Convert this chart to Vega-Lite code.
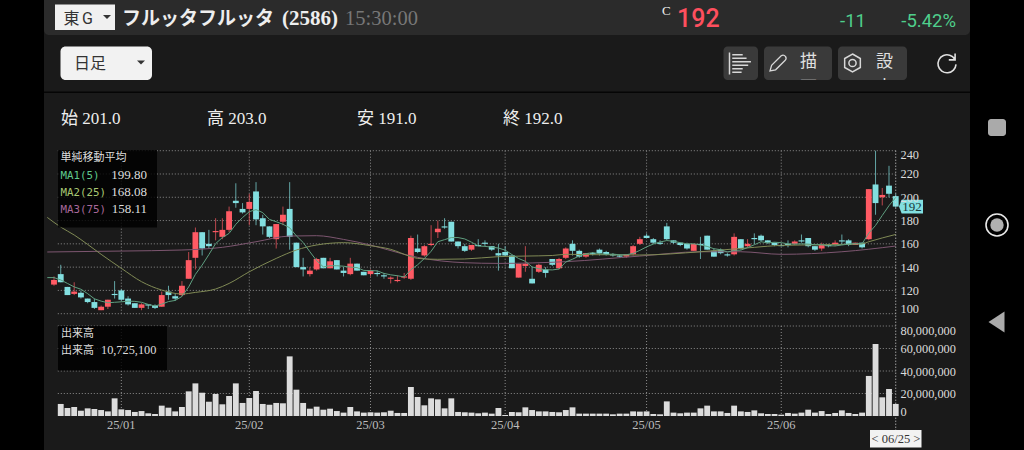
{"$schema":"https://vega.github.io/schema/vega-lite/v6.json","width":1024,"height":450,"autosize":{"type":"fit","contains":"padding"},"padding":0,"background":"#000000","config":{"view":{"stroke":null},"text":{"baseline":"alphabetic"}},
"datasets":{"one":[{"k":1}],"priceLevels":[{"p":100},{"p":120},{"p":140},{"p":160},{"p":180},{"p":200},{"p":220},{"p":240}],"volLevels":[{"q":20000000},{"q":40000000},{"q":60000000},{"q":80000000}],"months":[{"d":"2025-01-06"},{"d":"2025-02-03"},{"d":"2025-03-03"},{"d":"2025-04-01"},{"d":"2025-05-01"},{"d":"2025-06-02"}],"last":[{"d":"2025-06-25"}]},
"data":{"values":[
{"d":"2024-12-16","m1":131,"m2":182.7,"m3":153},
{"d":"2024-12-17","o":125,"h":132,"l":124,"c":129,"m1":131},
{"d":"2024-12-18","o":134,"h":142,"l":127,"c":127,"v":10700000,"m1":129,"m2":174.4},
{"d":"2024-12-19","o":123,"h":123,"l":116,"c":116,"v":7100000,"m1":126},
{"d":"2024-12-20","o":117,"h":127,"l":116,"c":119,"v":8000000,"m1":123,"m2":167.6},
{"d":"2024-12-23","o":118,"h":120,"l":113,"c":114,"v":4700000,"m1":121},
{"d":"2024-12-24","o":113,"h":113,"l":109,"c":110,"v":6800000,"m1":117.2,"m2":159.5},
{"d":"2024-12-25","o":110,"h":113,"l":104,"c":105,"v":6200000,"m1":112.8},
{"d":"2024-12-26","o":103,"h":107,"l":103,"c":106,"v":5300000,"m1":110.8,"m2":151},
{"d":"2024-12-27","o":106,"h":112,"l":104,"c":112,"v":4100000,"m1":109.4},
{"d":"2024-12-30","o":117,"h":128,"l":113,"c":116,"v":15700000,"m1":109.8},
{"d":"2025-01-06","o":120,"h":121,"l":111,"c":112,"v":5900000,"m1":110.2,"m2":139,"m3":153.8},
{"d":"2025-01-07","o":113,"h":115,"l":107,"c":108,"v":5300000,"m1":110.8},
{"d":"2025-01-08","o":109,"h":109,"l":105,"c":105,"v":3600000,"m1":110.6},
{"d":"2025-01-09","o":105,"h":109,"l":103,"c":108,"v":4400000,"m1":109.8,"m2":127.5},
{"d":"2025-01-10","o":108,"h":108,"l":104,"c":107,"v":2400000,"m1":108},
{"d":"2025-01-14","o":107,"h":108,"l":104,"c":105,"v":1800000,"m1":106.6},
{"d":"2025-01-15","o":106,"h":119,"l":106,"c":116,"v":9200000,"m1":108.2,"m2":120.3},
{"d":"2025-01-16","o":119,"h":124,"l":112,"c":116,"v":7400000,"m1":110.4},
{"d":"2025-01-17","o":115,"h":117,"l":111,"c":113,"v":4100000,"m1":111.4},
{"d":"2025-01-20","o":116,"h":128,"l":115,"c":124,"v":8000000,"m1":114.8,"m2":116.9,"m3":154.7},
{"d":"2025-01-21","o":130,"h":153,"l":130,"c":146,"v":21900000,"m1":123},
{"d":"2025-01-22","o":148,"h":174,"l":138,"c":170,"v":29000000,"m1":133.8,"m2":118.3},
{"d":"2025-01-23","o":170,"h":170,"l":150,"c":156,"v":20700000,"m1":141.8},
{"d":"2025-01-24","o":160,"h":172,"l":156,"c":158,"v":12700000,"m1":150.8},
{"d":"2025-01-27","o":170,"h":182,"l":163,"c":171,"v":19600000,"m1":160.2,"m2":121.2},
{"d":"2025-01-28","o":166,"h":182,"l":164,"c":172,"v":10400000,"m1":165.4,"m3":157},
{"d":"2025-01-29","o":172,"h":192,"l":170,"c":188,"v":17800000,"m1":169,"m2":126},
{"d":"2025-01-30","o":197,"h":212,"l":191,"c":195,"v":29000000,"m1":176.8},
{"d":"2025-01-31","o":190,"h":195,"l":186,"c":187,"v":11600000,"m1":182.6},
{"d":"2025-02-03","o":190,"h":203,"l":176,"c":196,"v":16000000,"m1":187.6,"m2":136},
{"d":"2025-02-04","o":205,"h":213,"l":176,"c":181,"v":22200000,"m1":189.4,"m3":161.8},
{"d":"2025-02-05","o":182,"h":185,"l":168,"c":175,"v":10700000,"m1":186.8},
{"d":"2025-02-06","o":175,"h":175,"l":165,"c":166,"v":10000000,"m1":181},
{"d":"2025-02-07","o":164,"h":177,"l":156,"c":177,"v":11600000,"m1":179,"m2":147.5},
{"d":"2025-02-10","o":179,"h":192,"l":176,"c":185,"v":11300000,"m1":176.8},
{"d":"2025-02-12","o":190,"h":213,"l":155,"c":166,"v":53000000,"m1":173.8,"m3":166.7},
{"d":"2025-02-13","o":161,"h":161,"l":140,"c":140,"v":23400000,"m1":166.8,"m2":154.7},
{"d":"2025-02-14","o":140,"h":148,"l":132,"c":138,"v":11600000,"m1":161.2},
{"d":"2025-02-17","o":134,"h":140,"l":132,"c":137,"v":6500000,"m1":153.2},
{"d":"2025-02-18","o":138,"h":148,"l":137,"c":147,"v":8300000,"m1":145.6,"m2":159,"m3":167},
{"d":"2025-02-19","o":148,"h":148,"l":139,"c":139,"v":5600000,"m1":140.2},
{"d":"2025-02-20","o":139,"h":148,"l":139,"c":145,"v":6500000,"m1":141.2},
{"d":"2025-02-21","o":146,"h":146,"l":138,"c":138,"v":4400000,"m1":141.2},
{"d":"2025-02-25","o":137,"h":140,"l":132,"c":135,"v":3000000,"m1":140.8,"m2":161,"m3":163.8},
{"d":"2025-02-26","o":134,"h":148,"l":133,"c":143,"v":8000000,"m1":140},
{"d":"2025-02-27","o":143,"h":143,"l":137,"c":137,"v":4100000,"m1":139.6},
{"d":"2025-02-28","o":136,"h":136,"l":133,"c":133,"v":3000000,"m1":137.2},
{"d":"2025-03-03","o":134,"h":138,"l":132,"c":137,"v":3300000,"m1":137,"m2":158.4,"m3":159},
{"d":"2025-03-04","o":135,"h":137,"l":132,"c":134,"v":3000000,"m1":136.8},
{"d":"2025-03-05","o":133,"h":135,"l":130,"c":132,"v":3300000,"m1":134.6},
{"d":"2025-03-06","o":130,"h":132,"l":126,"c":131,"v":4700000,"m1":133.4,"m2":155.3},
{"d":"2025-03-07","o":128,"h":133,"l":127,"c":129,"v":2700000,"m1":132.6},
{"d":"2025-03-10","o":131,"h":135,"l":130,"c":132,"v":2700000,"m1":131.6,"m3":151},
{"d":"2025-03-11","o":130,"h":167,"l":129,"c":165,"v":25800000,"m1":137.8,"m2":149},
{"d":"2025-03-12","o":156,"h":168,"l":152,"c":153,"v":16900000,"m1":142,"m2":147.5,"m3":148.4},
{"d":"2025-03-13","o":150,"h":159,"l":149,"c":158,"v":9500000,"m1":147.4},
{"d":"2025-03-14","o":159,"h":176,"l":158,"c":160,"v":15700000,"m1":153.6},
{"d":"2025-03-17","o":170,"h":180,"l":165,"c":173,"v":14800000,"m1":161.8,"m2":146.7},
{"d":"2025-03-18","o":175,"h":182,"l":173,"c":174,"v":6800000,"m1":163.6},
{"d":"2025-03-19","o":179,"h":179,"l":162,"c":162,"v":15700000,"m1":165.4},
{"d":"2025-03-21","o":162,"h":162,"l":156,"c":158,"v":3600000,"m1":165.4},
{"d":"2025-03-24","o":158,"h":160,"l":153,"c":154,"v":3300000,"m1":164.2,"m2":147,"m3":143.8},
{"d":"2025-03-25","o":155,"h":159,"l":154,"c":159,"v":3000000,"m1":161.4},
{"d":"2025-03-26","o":159,"h":164,"l":158,"c":158,"v":2400000,"m1":158.2},
{"d":"2025-03-27","o":161,"h":163,"l":158,"c":160,"v":3000000,"m1":157.8},
{"d":"2025-03-28","o":158,"h":158,"l":154,"c":155,"v":2100000,"m1":157.2},
{"d":"2025-03-31","o":152,"h":160,"l":137,"c":150,"v":7100000,"m1":156.4,"m2":149,"m3":143.2},
{"d":"2025-04-01","o":153,"h":158,"l":149,"c":150,"v":900000,"m1":154.6},
{"d":"2025-04-02","o":150,"h":150,"l":139,"c":139,"v":3600000,"m1":150.8},
{"d":"2025-04-03","o":131,"h":143,"l":131,"c":143,"v":3300000,"m1":147.4},
{"d":"2025-04-04","o":141,"h":158,"l":136,"c":143,"v":7700000,"m1":145,"m2":149.5},
{"d":"2025-04-07","o":130,"h":140,"l":126,"c":126,"v":5300000,"m1":140.2},
{"d":"2025-04-08","o":136,"h":143,"l":135,"c":142,"v":4100000,"m1":138.6},
{"d":"2025-04-09","o":138,"h":140,"l":131,"c":135,"v":4100000,"m1":137.8},
{"d":"2025-04-10","o":147,"h":147,"l":141,"c":142,"v":3600000,"m1":137.6,"m2":150},
{"d":"2025-04-11","o":139,"h":148,"l":138,"c":147,"v":3300000,"m1":138.4},
{"d":"2025-04-14","o":148,"h":157,"l":147,"c":156,"v":5300000,"m1":144.4,"m2":151,"m3":144.7},
{"d":"2025-04-15","o":160,"h":163,"l":150,"c":154,"v":7700000,"m1":146.8},
{"d":"2025-04-16","o":154,"h":155,"l":148,"c":149,"v":2100000,"m1":149.6},
{"d":"2025-04-17","o":149,"h":152,"l":148,"c":152,"v":2100000,"m1":151.6},
{"d":"2025-04-18","o":152,"h":153,"l":150,"c":151,"v":2100000,"m1":152.4,"m2":150.7},
{"d":"2025-04-21","o":155,"h":156,"l":150,"c":152,"v":2100000,"m1":151.6},
{"d":"2025-04-22","o":153,"h":154,"l":150,"c":151,"v":2100000,"m1":151},
{"d":"2025-04-23","o":151,"h":152,"l":149,"c":150,"v":1500000,"m1":151.2},
{"d":"2025-04-24","o":150,"h":151,"l":148,"c":149,"v":2100000,"m1":150.6},
{"d":"2025-04-25","o":149,"h":151,"l":148,"c":151,"v":2100000,"m1":150.6},
{"d":"2025-04-28","o":151,"h":159,"l":150,"c":158,"v":4100000,"m1":151.8},
{"d":"2025-04-30","o":160,"h":166,"l":159,"c":164,"v":3900000,"m1":154.4,"m2":150.4,"m3":149.5},
{"d":"2025-05-01","o":167,"h":169,"l":165,"c":165,"v":4100000,"m1":157.4},
{"d":"2025-05-02","o":164,"h":165,"l":160,"c":161,"v":1800000,"m1":159.8},
{"d":"2025-05-07","o":161,"h":163,"l":159,"c":160,"v":1500000,"m1":161.6},
{"d":"2025-05-08","o":175,"h":178,"l":163,"c":164,"v":13000000,"m1":162.8},
{"d":"2025-05-09","o":163,"h":163,"l":160,"c":161,"v":3000000,"m1":162.2},
{"d":"2025-05-12","o":161,"h":161,"l":158,"c":159,"v":2400000,"m1":161},
{"d":"2025-05-13","o":160,"h":161,"l":155,"c":156,"v":3000000,"m1":160},
{"d":"2025-05-14","o":154,"h":160,"l":154,"c":160,"v":3000000,"m1":160},
{"d":"2025-05-15","o":160,"h":166,"l":147,"c":159,"v":6800000,"m1":159,"m2":153.2,"m3":153.2},
{"d":"2025-05-16","o":167,"h":167,"l":155,"c":155,"v":9200000,"m1":157.8},
{"d":"2025-05-19","o":154,"h":156,"l":149,"c":149,"v":4100000,"m1":155.8},
{"d":"2025-05-20","o":155,"h":156,"l":151,"c":152,"v":4100000,"m1":155},
{"d":"2025-05-21","o":151,"h":152,"l":149,"c":150,"v":2700000,"m1":153},
{"d":"2025-05-22","o":151,"h":169,"l":150,"c":166,"v":9200000,"m1":154.4,"m2":155.6},
{"d":"2025-05-23","o":164,"h":164,"l":155,"c":156,"v":4100000,"m1":154.6,"m3":153.2},
{"d":"2025-05-26","o":158,"h":164,"l":157,"c":160,"v":3600000,"m1":156.8},
{"d":"2025-05-27","o":165,"h":169,"l":160,"c":164,"v":5000000,"m1":159.2,"m2":157},
{"d":"2025-05-28","o":167,"h":168,"l":162,"c":163,"v":2400000,"m1":161.8},
{"d":"2025-05-29","o":163,"h":163,"l":160,"c":161,"v":1800000,"m1":160.8},
{"d":"2025-05-30","o":161,"h":161,"l":158,"c":159,"v":1800000,"m1":161.4},
{"d":"2025-06-02","o":159,"h":160,"l":158,"c":158,"v":1200000,"m1":161,"m2":158.7,"m3":151},
{"d":"2025-06-03","o":160,"h":163,"l":157,"c":159,"v":2700000,"m1":160},
{"d":"2025-06-04","o":160,"h":163,"l":159,"c":162,"v":2100000,"m1":159.8},
{"d":"2025-06-05","o":163,"h":168,"l":161,"c":162,"v":3000000,"m1":160},
{"d":"2025-06-06","o":165,"h":165,"l":157,"c":158,"v":5600000,"m1":159.8},
{"d":"2025-06-09","o":158,"h":158,"l":154,"c":155,"v":3000000,"m1":159.2},
{"d":"2025-06-10","o":156,"h":161,"l":154,"c":159,"v":4400000,"m1":159.2},
{"d":"2025-06-11","o":159,"h":160,"l":157,"c":158,"v":1800000,"m1":158.4},
{"d":"2025-06-12","o":159,"h":163,"l":158,"c":161,"v":2700000,"m1":158.2},
{"d":"2025-06-13","o":163,"h":168,"l":159,"c":162,"v":5000000,"m1":159,"m2":159.5,"m3":153.2},
{"d":"2025-06-16","o":163,"h":164,"l":158,"c":159,"v":2700000,"m1":159.8},
{"d":"2025-06-17","o":159,"h":161,"l":159,"c":161,"v":1800000,"m1":160.2},
{"d":"2025-06-18","o":161,"h":161,"l":156,"c":157,"v":3000000,"m1":160,"m2":160},
{"d":"2025-06-19","o":164,"h":207,"l":163,"c":207,"v":35600000,"m1":169.2,"m2":161.8},
{"d":"2025-06-20","o":211,"h":240,"l":185,"c":195,"v":64000000,"m1":175.8},
{"d":"2025-06-23","o":200,"h":208,"l":193,"c":202,"v":16600000,"m1":184.4},
{"d":"2025-06-24","o":210,"h":227,"l":200,"c":203,"v":24000000,"m1":192.8},
{"d":"2025-06-25","o":201,"h":203,"l":191,"c":192,"v":10725100,"m1":199.8,"m2":168.08,"m3":158.11}
]},
"encoding":{"x":{"field":"d","type":"ordinal","scale":{"type":"band","range":[43.9,899.1],"paddingInner":0.13,"paddingOuter":0.065},"axis":{"orient":"bottom","offset":-32,"title":null,"domain":false,"ticks":false,"grid":false,"zindex":1,"labelPadding":0,"labelAngle":0,"values":["2025-01-06","2025-02-03","2025-03-03","2025-04-01","2025-05-01","2025-06-02"],"labelExpr":"slice(datum.value,2,4)+'/'+slice(datum.value,5,7)","labelFont":"Liberation Serif","labelFontSize":12.5,"labelColor":"#bdbdbd","labelBaseline":"top"}}},
"layer":[
{"data":{"name":"one"},"mark":{"type":"rect","color":"#1a1a1a"},"encoding":{"x":{"value":44},"x2":{"value":970},"y":{"value":0},"y2":{"value":450}}},
{"data":{"name":"one"},"mark":{"type":"rect","color":"#2b2b2b","cornerRadiusBottomLeft":5,"cornerRadiusBottomRight":5},"encoding":{"x":{"value":44},"x2":{"value":970},"y":{"value":0},"y2":{"value":35}}},
{"data":{"name":"one"},"mark":{"type":"rect","color":"#f0f0f0"},"encoding":{"x":{"value":55},"x2":{"value":115},"y":{"value":4.5},"y2":{"value":30}}},
{"data":{"name":"one"},"mark":{"type":"text","align":"left","font":"Noto Sans CJK JP","fontSize":16,"color":"#333333"},"encoding":{"x":{"value":63.5},"y":{"value":24},"text":{"value":"東"}}},
{"data":{"name":"one"},"mark":{"type":"text","align":"left","font":"Roboto","fontSize":16,"color":"#333333"},"encoding":{"x":{"value":82},"y":{"value":24},"text":{"value":"G"}}},
{"data":{"name":"one"},"mark":{"type":"point","shape":"M -1 -0.5 L 1 -0.5 L 0 0.5 Z","filled":true,"size":64,"color":"#333333","opacity":1},"encoding":{"x":{"value":107},"y":{"value":17}}},
{"data":{"name":"one"},"mark":{"type":"text","align":"left","font":"Noto Sans CJK JP","fontSize":19,"fontWeight":"bold","color":"#eeeeee"},"encoding":{"x":{"value":122},"y":{"value":24.5},"text":{"value":"フルッタフルッタ"}}},
{"data":{"name":"one"},"mark":{"type":"text","align":"left","font":"Liberation Serif","fontSize":21,"fontWeight":"bold","color":"#eeeeee"},"encoding":{"x":{"value":282},"y":{"value":24.5},"text":{"value":"(2586)"}}},
{"data":{"name":"one"},"mark":{"type":"text","align":"left","font":"Liberation Serif","fontSize":20.5,"color":"#777777"},"encoding":{"x":{"value":345},"y":{"value":24.5},"text":{"value":"15:30:00"}}},
{"data":{"name":"one"},"mark":{"type":"text","align":"left","font":"Liberation Serif","fontSize":13,"color":"#eeeeee"},"encoding":{"x":{"value":662},"y":{"value":15},"text":{"value":"C"}}},
{"data":{"name":"one"},"mark":{"type":"text","align":"left","font":"Roboto","fontSize":25,"fontWeight":500,"color":"#ff4f5e"},"encoding":{"x":{"value":677},"y":{"value":26.5},"text":{"value":"192"}}},
{"data":{"name":"one"},"mark":{"type":"text","align":"right","font":"Roboto","fontSize":18.5,"color":"#4fcf8c"},"encoding":{"x":{"value":866},"y":{"value":26.5},"text":{"value":"-11"}}},
{"data":{"name":"one"},"mark":{"type":"text","align":"right","font":"Roboto","fontSize":18.5,"color":"#4fcf8c"},"encoding":{"x":{"value":956},"y":{"value":26.5},"text":{"value":"-5.42%"}}},
{"data":{"name":"one"},"mark":{"type":"rect","color":"#f2f2f2","cornerRadius":5},"encoding":{"x":{"value":60.5},"x2":{"value":152},"y":{"value":46.5},"y2":{"value":80}}},
{"data":{"name":"one"},"mark":{"type":"text","align":"left","font":"Noto Sans CJK JP","fontSize":16,"color":"#333333"},"encoding":{"x":{"value":74},"y":{"value":69},"text":{"value":"日足"}}},
{"data":{"name":"one"},"mark":{"type":"point","shape":"M -1 -0.5 L 1 -0.5 L 0 0.5 Z","filled":true,"size":64,"color":"#333333","opacity":1},"encoding":{"x":{"value":141},"y":{"value":62.5}}},
{"data":{"name":"one"},"mark":{"type":"rect","color":"#3a3a3a","cornerRadius":4},"encoding":{"x":{"value":723.5},"x2":{"value":758},"y":{"value":46.5},"y2":{"value":80}}},
{"data":{"name":"one"},"mark":{"type":"rect","color":"#3a3a3a","cornerRadius":4},"encoding":{"x":{"value":764},"x2":{"value":832},"y":{"value":46.5},"y2":{"value":80}}},
{"data":{"name":"one"},"mark":{"type":"rect","color":"#3a3a3a","cornerRadius":4},"encoding":{"x":{"value":838},"x2":{"value":907},"y":{"value":46.5},"y2":{"value":80}}},
{"data":{"name":"one"},"mark":{"type":"point","shape":"M -1 -1 L -1 1 M -0.75 -0.8 L 0.2 -0.8 M -0.75 -0.48 L 0.55 -0.48 M -0.75 -0.16 L 0.95 -0.16 M -0.75 0.16 L 0.7 0.16 M -0.75 0.48 L 0.2 0.48 M -0.75 0.8 L 0.1 0.8","filled":false,"size":484,"color":"#d8d8d8","strokeWidth":1.5,"opacity":1},"encoding":{"x":{"value":740.5},"y":{"value":63.5}}},
{"data":{"name":"one"},"mark":{"type":"point","shape":"M -1 1 L -0.8 0.3 L 0.4 -0.9 Q 0.7 -1.1 0.95 -0.8 Q 1.1 -0.5 0.9 -0.35 L -0.3 0.85 Z","filled":false,"size":256,"color":"#d8d8d8","strokeWidth":1.3,"opacity":1},"encoding":{"x":{"value":778},"y":{"value":63}}},
{"data":{"name":"one"},"mark":{"type":"text","align":"left","font":"Noto Sans CJK JP","fontSize":17,"color":"#e0e0e0"},"encoding":{"x":{"value":800},"y":{"value":67},"text":{"value":"描"}}},
{"data":{"name":"one"},"mark":{"type":"text","align":"left","font":"Noto Sans CJK JP","fontSize":17,"color":"#e0e0e0"},"encoding":{"x":{"value":800},"y":{"value":92.5},"text":{"value":"画"}}},
{"data":{"name":"one"},"mark":{"type":"point","shape":"M 0 -1 L 0.87 -0.5 L 0.87 0.5 L 0 1 L -0.87 0.5 L -0.87 -0.5 Z M 0.4 0 A 0.4 0.4 0 1 1 -0.4 0 A 0.4 0.4 0 1 1 0.4 0 Z","filled":false,"size":324,"color":"#d8d8d8","strokeWidth":1.5,"opacity":1},"encoding":{"x":{"value":852.5},"y":{"value":63}}},
{"data":{"name":"one"},"mark":{"type":"text","align":"left","font":"Noto Sans CJK JP","fontSize":17,"color":"#e0e0e0"},"encoding":{"x":{"value":876},"y":{"value":67},"text":{"value":"設"}}},
{"data":{"name":"one"},"mark":{"type":"text","align":"left","font":"Noto Sans CJK JP","fontSize":17,"color":"#e0e0e0"},"encoding":{"x":{"value":876},"y":{"value":92.5},"text":{"value":"定"}}},
{"data":{"name":"one"},"mark":{"type":"rect","color":"#1a1a1a"},"encoding":{"x":{"value":723},"x2":{"value":910},"y":{"value":80},"y2":{"value":100}}},
{"data":{"name":"one"},"mark":{"type":"rect","color":"#050505"},"encoding":{"x":{"value":44},"x2":{"value":970},"y":{"value":91.5},"y2":{"value":93}}},
{"data":{"name":"one"},"mark":{"type":"point","shape":"M 0.85 -0.5 A 1 1 0 1 0 1 0.1 M 0.9 -1.1 L 0.9 -0.4 L 0.2 -0.4","filled":false,"size":324,"color":"#e0e0e0","strokeWidth":1.6,"opacity":1},"encoding":{"x":{"value":947},"y":{"value":63.5}}},
{"data":{"name":"one"},"mark":{"type":"text","align":"left","font":"Liberation Serif, Noto Sans CJK JP","fontSize":17,"color":"#eeeeee"},"encoding":{"x":{"value":61},"y":{"value":123.5},"text":{"value":"始 201.0"}}},
{"data":{"name":"one"},"mark":{"type":"text","align":"left","font":"Liberation Serif, Noto Sans CJK JP","fontSize":17,"color":"#eeeeee"},"encoding":{"x":{"value":207},"y":{"value":123.5},"text":{"value":"高 203.0"}}},
{"data":{"name":"one"},"mark":{"type":"text","align":"left","font":"Liberation Serif, Noto Sans CJK JP","fontSize":17,"color":"#eeeeee"},"encoding":{"x":{"value":357},"y":{"value":123.5},"text":{"value":"安 191.0"}}},
{"data":{"name":"one"},"mark":{"type":"text","align":"left","font":"Liberation Serif, Noto Sans CJK JP","fontSize":17,"color":"#eeeeee"},"encoding":{"x":{"value":503},"y":{"value":123.5},"text":{"value":"終 192.0"}}},
{"data":{"name":"one"},"mark":{"type":"rect","color":"#aaaaaa","cornerRadius":3},"encoding":{"x":{"value":988},"x2":{"value":1006},"y":{"value":119},"y2":{"value":136}}},
{"data":{"name":"one"},"mark":{"type":"point","shape":"circle","filled":false,"size":484,"color":"#e8e8e8","strokeWidth":1.6,"opacity":1},"encoding":{"x":{"value":997},"y":{"value":225}}},
{"data":{"name":"one"},"mark":{"type":"point","shape":"circle","filled":true,"size":180,"color":"#b0b0b0","opacity":1},"encoding":{"x":{"value":997},"y":{"value":225}}},
{"data":{"name":"one"},"mark":{"type":"point","shape":"M 1 -1.3 L 1 1.3 L -1 0 Z","filled":true,"size":256,"color":"#aaaaaa","opacity":1},"encoding":{"x":{"value":996.5},"y":{"value":322}}},
{"layer":[
{"data":{"name":"priceLevels"},"mark":{"type":"rule","color":"#8c8c8c","strokeWidth":1,"strokeDash":[1,2]},"encoding":{"y":{"field":"p","type":"quantitative","scale":{"domain":[100,240],"range":[313.7,150.7]},"axis":{"orient":"right","offset":-124,"title":null,"values":[100,120,140,160,180,200,220,240],"domain":false,"ticks":false,"grid":false,"zindex":1,"labelPadding":0,"labelFlush":true,"labelFlushOffset":2,"labelFont":"Liberation Serif","labelFontSize":12.3,"labelColor":"#dcdcdc"}},"x":{"datum":"2024-12-18","type":"ordinal","bandPosition":0},"x2":{"datum":"2025-06-25"}}},
{"data":{"name":"months"},"mark":{"type":"rule","color":"#8c8c8c","strokeWidth":1,"strokeDash":[1,2]},"encoding":{"x":{"field":"d","type":"ordinal"},"y":{"datum":240,"type":"quantitative"},"y2":{"datum":100}}},
{"transform":[{"filter":"isValid(datum.o)"}],"mark":{"type":"rule","strokeWidth":1,"opacity":0.7},"encoding":{"y":{"field":"l","type":"quantitative"},"y2":{"field":"h"},"color":{"condition":{"test":"datum.c>=datum.o","value":"#ff5a64"},"value":"#82dfe0"}}},
{"transform":[{"filter":"isValid(datum.o)"}],"mark":{"type":"bar"},"encoding":{"y":{"field":"o","type":"quantitative"},"y2":{"field":"c"},"color":{"condition":{"test":"datum.c>=datum.o","value":"#ff5a64"},"value":"#82dfe0"}}},
{"transform":[{"filter":"isValid(datum.m3)"}],"mark":{"type":"line","color":"#7d5670","strokeWidth":1,"interpolate":"monotone"},"encoding":{"y":{"field":"m3","type":"quantitative"}}},
{"transform":[{"filter":"isValid(datum.m2)"}],"mark":{"type":"line","color":"#808a55","strokeWidth":1,"interpolate":"monotone"},"encoding":{"y":{"field":"m2","type":"quantitative"}}},
{"transform":[{"filter":"isValid(datum.m1)"}],"mark":{"type":"line","color":"#5f9f80","strokeWidth":1},"encoding":{"y":{"field":"m1","type":"quantitative"}}},
{"data":{"name":"last"},"mark":{"type":"rule","color":"#d8d8d8","strokeWidth":1,"strokeDash":[1,2]},"encoding":{"x":{"field":"d","type":"ordinal"},"y":{"datum":240,"type":"quantitative"},"y2":{"datum":0}}},
{"transform":[{"filter":"datum.d==='2025-06-25'"}],"mark":{"type":"point","shape":"M -1 0 L -0.78 -0.58 L 1 -0.58 L 1 0.58 L -0.78 0.58 Z","filled":true,"size":576,"color":"#82dfe0","opacity":1},"encoding":{"x":{"value":911},"y":{"field":"c","type":"quantitative"}}},
{"transform":[{"filter":"datum.d==='2025-06-25'"}],"mark":{"type":"text","align":"center","baseline":"middle","font":"Liberation Serif","fontSize":13,"color":"#1a3a3a"},"encoding":{"x":{"value":912},"y":{"field":"c","type":"quantitative"},"text":{"field":"c","type":"quantitative"}}}
]},
{"layer":[
{"data":{"name":"volLevels"},"mark":{"type":"rule","color":"#8c8c8c","strokeWidth":1,"strokeDash":[1,2]},"encoding":{"y":{"field":"q","type":"quantitative","scale":{"domain":[0,80000000],"range":[416,326]},"axis":{"orient":"right","offset":-124,"title":null,"values":[0,20000000,40000000,60000000,80000000],"format":",d","domain":false,"ticks":false,"grid":false,"zindex":1,"labelPadding":0,"labelFlush":true,"labelFlushOffset":2,"labelFont":"Liberation Serif","labelFontSize":12.3,"labelColor":"#dcdcdc"}},"x":{"datum":"2024-12-18","type":"ordinal","bandPosition":0},"x2":{"datum":"2025-06-25"}}},
{"data":{"name":"months"},"mark":{"type":"rule","color":"#8c8c8c","strokeWidth":1,"strokeDash":[1,2]},"encoding":{"x":{"field":"d","type":"ordinal"},"y":{"datum":80000000,"type":"quantitative"},"y2":{"datum":0}}},
{"transform":[{"filter":"isValid(datum.v)"}],"mark":{"type":"bar","color":"#dcdcdc"},"encoding":{"y":{"field":"v","type":"quantitative","stack":null}}}
]},
{"data":{"name":"one"},"mark":{"type":"rect","color":"#000000","opacity":0.82},"encoding":{"x":{"value":58},"x2":{"value":157},"y":{"value":150},"y2":{"value":227.5}}},
{"data":{"name":"one"},"mark":{"type":"rect","color":"#000000","opacity":0.82},"encoding":{"x":{"value":58},"x2":{"value":167},"y":{"value":326},"y2":{"value":370.5}}},
{"data":{"name":"one"},"mark":{"type":"text","align":"left","font":"Noto Sans CJK JP","fontSize":11,"color":"#dddddd"},"encoding":{"x":{"value":60.5},"y":{"value":161},"text":{"value":"単純移動平均"}}},
{"data":{"name":"one"},"mark":{"type":"text","align":"left","font":"DejaVu Sans Mono","fontSize":10.8,"color":"#5fc98c"},"encoding":{"x":{"value":60.5},"y":{"value":178.5},"text":{"value":"MA1(5)"}}},
{"data":{"name":"one"},"mark":{"type":"text","align":"left","font":"DejaVu Sans Mono","fontSize":10.8,"color":"#a9c873"},"encoding":{"x":{"value":60.5},"y":{"value":195.5},"text":{"value":"MA2(25)"}}},
{"data":{"name":"one"},"mark":{"type":"text","align":"left","font":"DejaVu Sans Mono","fontSize":10.8,"color":"#a8689a"},"encoding":{"x":{"value":60.5},"y":{"value":213},"text":{"value":"MA3(75)"}}},
{"data":{"name":"one"},"mark":{"type":"text","align":"right","font":"Liberation Serif","fontSize":13,"color":"#dddddd"},"encoding":{"x":{"value":147},"y":{"value":178.5},"text":{"value":"199.80"}}},
{"data":{"name":"one"},"mark":{"type":"text","align":"right","font":"Liberation Serif","fontSize":13,"color":"#dddddd"},"encoding":{"x":{"value":147},"y":{"value":195.5},"text":{"value":"168.08"}}},
{"data":{"name":"one"},"mark":{"type":"text","align":"right","font":"Liberation Serif","fontSize":13,"color":"#dddddd"},"encoding":{"x":{"value":147},"y":{"value":213},"text":{"value":"158.11"}}},
{"data":{"name":"one"},"mark":{"type":"text","align":"left","font":"Noto Sans CJK JP","fontSize":11,"color":"#dddddd"},"encoding":{"x":{"value":61},"y":{"value":337},"text":{"value":"出来高"}}},
{"data":{"name":"one"},"mark":{"type":"text","align":"left","font":"Noto Sans CJK JP","fontSize":11,"color":"#dddddd"},"encoding":{"x":{"value":61},"y":{"value":354},"text":{"value":"出来高"}}},
{"data":{"name":"one"},"mark":{"type":"text","align":"left","font":"Liberation Serif","fontSize":12.3,"color":"#dddddd"},"encoding":{"x":{"value":101},"y":{"value":354},"text":{"value":"10,725,100"}}},
{"data":{"name":"one"},"mark":{"type":"rect","color":"#f2f2f2"},"encoding":{"x":{"value":870},"x2":{"value":921.5},"y":{"value":430},"y2":{"value":447.5}}},
{"data":{"name":"one"},"mark":{"type":"text","align":"center","font":"Liberation Serif","fontSize":12.5,"color":"#333333"},"encoding":{"x":{"value":896},"y":{"value":443},"text":{"value":"< 06/25 >"}}}
],
"resolve":{"scale":{"y":"independent"}}}
